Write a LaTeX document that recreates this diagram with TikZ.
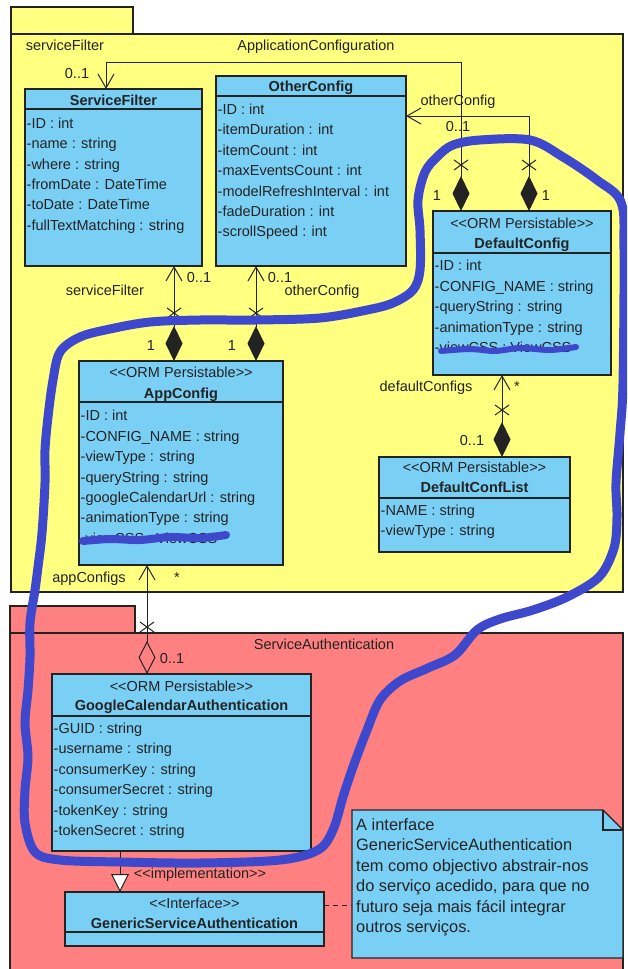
\documentclass[tikz,border=0pt]{standalone}
\usepackage{fontspec}
\setmainfont{Liberation Sans}
\usetikzlibrary{arrows.meta}

\definecolor{pkgyellow}{RGB}{255,255,128}
\definecolor{pkgred}{RGB}{255,128,128}
\definecolor{clsblue}{RGB}{122,207,245}
\definecolor{ink}{RGB}{35,35,35}
\definecolor{markerblue}{RGB}{62,72,204}

\newcommand{\umlfont}{\fontsize{14.5}{17}\selectfont}
\newcommand{\notefont}{\fontsize{16.4}{20.5}\selectfont}
% guillemets written as two separate characters
\newcommand{\lt}{<\kern0pt<}
\newcommand{\gt}{>\kern0pt>}

\tikzset{
  pkg/.style={draw=ink, line width=1.1pt, anchor=north west, inner sep=0pt, outer sep=0pt},
  cls/.style={draw=ink, fill=clsblue, line width=1.1pt, anchor=north west, inner sep=0pt, outer sep=0pt},
  attr/.style={anchor=base west, inner sep=0pt, font=\umlfont, text=ink},
  ttl/.style={anchor=base, inner sep=0pt, font=\umlfont\bfseries, text=ink},
  stereo/.style={anchor=base, inner sep=0pt, font=\umlfont, text=ink},
  lbl/.style={anchor=base, inner sep=0pt, font=\umlfont, text=ink},
  notetxt/.style={anchor=base west, inner sep=0pt, font=\notefont, text=ink},
  conn/.style={draw=ink, line width=1pt},
  sep/.style={draw=ink, line width=1.1pt},
  compo/.style={conn, {Diamond[length=35pt,width=17pt]}-{Straight Barb[length=14pt,width=16pt]}},
  aggr/.style={conn, {Diamond[open,length=33pt,width=17pt]}-{Straight Barb[length=14pt,width=16pt]}},
  realize/.style={conn, -{Triangle[fill=white,length=18pt,width=18pt]}},
  marker/.style={draw=markerblue, line width=9pt, line cap=round, line join=round},
  scribble/.style={draw=markerblue, line width=8pt, line cap=round, line join=round},
}

% attribute rows: x, first baseline, name prefix, entries
\newcommand{\attrs}[4]{%
  \foreach \a [count=\i from 0] in {#4} {\node[attr] (#3\i) at (#1, {#2+20.4*\i}) {\a};}}
% navigability cross on an association end
\newcommand{\umlcross}[1]{\draw[conn] (#1) +(-7,-5) -- +(7,5) +(-7,5) -- +(7,-5);}

\begin{document}
\begin{tikzpicture}[x=1pt,y=-1pt]
\useasboundingbox (0,0) rectangle (627,969);
\clip (0,0) rectangle (627,969);
\fill[white] (0,0) rectangle (627,969);

% ---------- packages ----------
\node[pkg, fill=pkgyellow, minimum width=122, minimum height=27] (apptab) at (11,7) {};
\node[pkg, fill=pkgyellow, minimum width=612, minimum height=558] (app) at (11,34) {};
\node[pkg, fill=pkgred, minimum width=125, minimum height=27] (authtab) at (10,606) {};
\node[pkg, fill=pkgred, minimum width=613, minimum height=345] (auth) at (10,633) {};
\node[lbl] (appname) at (316,50) {ApplicationConfiguration};
\node[lbl] (authname) at (324,649) {ServiceAuthentication};

% ---------- classes ----------
% ServiceFilter
\node[cls, minimum width=177, minimum height=177] (sf) at (25,89) {};
\draw[sep] ([yshift=-20]sf.north west) -- ([yshift=-20]sf.north east);
\node[ttl] (sft) at (113.5,105) {ServiceFilter};
\attrs{26.5}{128.2}{sfa}{-ID : int,-name : string,-where : string,-fromDate : DateTime,-toDate : DateTime,-fullTextMatching : string}

% OtherConfig
\node[cls, minimum width=190, minimum height=190] (oc) at (216,76) {};
\draw[sep] ([yshift=-20]oc.north west) -- ([yshift=-20]oc.north east);
\node[ttl] (oct) at (311,91) {OtherConfig};
\attrs{217.5}{114.5}{oca}{-ID : int,-itemDuration : int,-itemCount : int,-maxEventsCount : int,-modelRefreshInterval : int,-fadeDuration : int,-scrollSpeed : int}

% DefaultConfig
\node[cls, minimum width=178, minimum height=164] (dc) at (433,211) {};
\draw[sep] ([yshift=-42]dc.north west) -- ([yshift=-42]dc.north east);
\node[stereo] (dcs) at (522,228) {\lt ORM Persistable\gt};
\node[ttl] (dct) at (522,248) {DefaultConfig};
\attrs{434.5}{270.9}{dca}{-ID : int,-CONFIG\_NAME : string,-queryString : string,-animationType : string,-viewCSS : ViewCSS}

% AppConfig
\node[cls, minimum width=204, minimum height=204] (ac) at (79,361) {};
\draw[sep] ([yshift=-41]ac.north west) -- ([yshift=-41]ac.north east);
\node[stereo] (acs) at (181,377) {\lt ORM Persistable\gt};
\node[ttl] (act) at (181,398) {AppConfig};
\attrs{80.5}{420.9}{aca}{-ID : int,-CONFIG\_NAME : string,-viewType : string,-queryString : string,-googleCalendarUrl : string,-animationType : string,-viewCSS : ViewCSS}

% DefaultConfList
\node[cls, minimum width=191, minimum height=95] (dcl) at (379,457) {};
\draw[sep] ([yshift=-41]dcl.north west) -- ([yshift=-41]dcl.north east);
\node[stereo] (dcls) at (474.5,472) {\lt ORM Persistable\gt};
\node[ttl] (dclt) at (474.5,492) {DefaultConfList};
\attrs{380.5}{515.2}{dcla}{-NAME : string,-viewType : string}

% GoogleCalendarAuthentication
\node[cls, minimum width=259, minimum height=177] (gca) at (52,674) {};
\draw[sep] ([yshift=-42]gca.north west) -- ([yshift=-42]gca.north east);
\node[stereo] (gcas) at (181.5,691) {\lt ORM Persistable\gt};
\node[ttl] (gcat) at (181.5,710) {GoogleCalendarAuthentication};
\attrs{53.5}{733.5}{gcaa}{-GUID : string,-username : string,-consumerKey : string,-consumerSecret : string,-tokenKey : string,-tokenSecret : string}

% GenericServiceAuthentication
\node[cls, minimum width=259, minimum height=54] (gsa) at (65,892) {};
\draw[sep] ([yshift=-40]gsa.north west) -- ([yshift=-40]gsa.north east);
\node[stereo] (gsas) at (194.5,908) {\lt Interface\gt};
\node[ttl] (gsat) at (194.5,928) {GenericServiceAuthentication};

% ---------- note ----------
\node[inner sep=0pt, outer sep=0pt, minimum width=271, minimum height=148, anchor=north west] (note) at (352,810) {};
\filldraw[sep, fill=clsblue] (note.north west) -- ([xshift=-20]note.north east) -- ([yshift=-20]note.north east)
  -- (note.south east) -- (note.south west) -- cycle;
\draw[sep] ([xshift=-20]note.north east) -- ([xshift=-20,yshift=-20]note.north east) -- ([yshift=-20]note.north east);
\node[notetxt] (n1) at (356,830.3) {A interface};
\node[notetxt] (n2) at (356,850.8) {GenericServiceAuthentication};
\node[notetxt] (n3) at (356,871.3) {tem como objectivo abstrair-nos};
\node[notetxt] (n4) at (356,891.8) {do serviço acedido, para que no};
\node[notetxt] (n5) at (356,912.3) {futuro seja mais fácil integrar};
\node[notetxt] (n6) at (356,932.8) {outros serviços.};

% ---------- association labels ----------
\node[lbl] (l1) at (65,50) {serviceFilter};
\node[lbl] (l2) at (77,78) {0..1};
\node[lbl] (l3) at (458,105) {otherConfig};
\node[lbl] (l4) at (458,131) {0..1};
\node[lbl] (l5) at (437,200) {1};
\node[lbl] (l6) at (546,200) {1};
\node[lbl] (l7) at (199,282) {0..1};
\node[lbl] (l8) at (105,295) {serviceFilter};
\node[lbl] (l9) at (280,282) {0..1};
\node[lbl] (l10) at (322,295) {otherConfig};
\node[lbl] (l11) at (151,350) {1};
\node[lbl] (l12) at (232,350) {1};
\node[lbl] (l13) at (426,391) {defaultConfigs};
\node[lbl] (l14) at (517,391) {*};
\node[lbl] (l15) at (472,445) {0..1};
\node[lbl] (l16) at (89,582) {appConfigs};
\node[lbl] (l17) at (177,582) {*};
\node[lbl] (l18) at (172,663) {0..1};
\node[lbl] (l19) at (200,878) {\lt implementation\gt};

% ---------- connectors ----------
\draw[compo] ([xshift=95]ac.north west) -- ([xshift=149]sf.south west);
\draw[compo] ([xshift=177]ac.north west) -- ([xshift=40]oc.south west);
\draw[compo] ([xshift=123]dcl.north west) -- ([xshift=69]dc.south west);
\draw[aggr] ([xshift=95]gca.north west) -- ([xshift=68]ac.south west);
\draw[compo] ([xshift=28]dc.north west) |- ([xshift=81,yshift=27]sf.north west) -- ([xshift=81]sf.north west);
\draw[compo] ([xshift=96]dc.north west) |- ([yshift=-40]oc.north east);
\draw[realize] ([xshift=68]gca.south west) -- ([xshift=55]gsa.north west);
\coordinate (gsad) at ([yshift=-13]gsa.north east);
\draw[conn, dash pattern=on 5pt off 4pt] (gsad) -- (gsad -| note.west);

\umlcross{174,313}
\umlcross{256,313}
\umlcross{502,410}
\umlcross{147,627}
\umlcross{461,165}
\umlcross{529,165}

% ---------- marker strokes ----------
\draw[scribble] plot[smooth] coordinates {(83,541) (110,539) (140,540) (170,537) (200,538) (226,535)};
\draw[scribble, line width=6pt] plot[smooth] coordinates {(441,351) (470,349) (495,351) (520,348) (550,350) (576,347)};

\draw[marker] plot[smooth cycle, tension=0.55] coordinates {
  (453,145) (480,140) (530,140) (563,157) (597,180) (621,202) (624,250)
  (623,383) (620,433) (616,483) (617,517) (614,548) (599,577) (567,597)
  (533,610) (500,619) (477,630) (455,655) (428,668) (400,681) (380,700)
  (367,730) (353,767) (343,797) (333,830) (318,850) (280,860) (200,863)
  (120,862) (60,860) (35,852) (25,823) (25,790) (28,757) (25,723) (28,690)
  (30,657) (30,623) (35,590) (38,567) (42,533) (45,483) (45,450) (48,417)
  (53,380) (60,352) (80,337) (110,329) (150,322) (200,320) (256,320)
  (320,318) (367,310) (393,303) (413,290) (420,270) (420,230) (418,200)
  (425,172) (438,156)};
\end{tikzpicture}
\end{document}
